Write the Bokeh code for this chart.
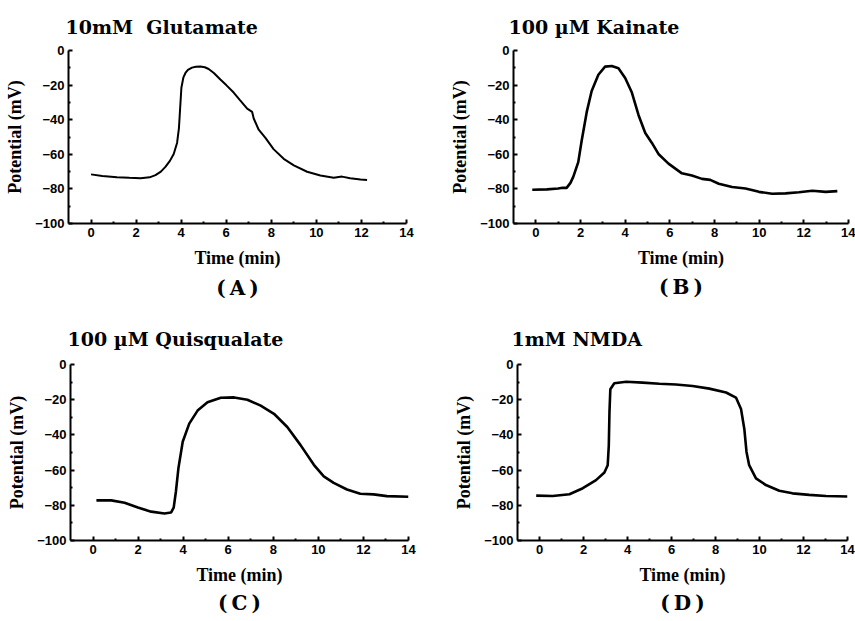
from bokeh.plotting import figure
from bokeh.layouts import column, row
from bokeh.models import FixedTicker, Title, Range1d
from bokeh.embed import file_html
from bokeh.resources import INLINE

# ---- data ----
glu_time = [0, 0.5, 1.15, 1.7, 2.2, 2.6, 2.86, 3.1, 3.3, 3.5, 3.67, 3.82, 3.9, 3.94, 4.01, 4.1, 4.19, 4.3, 4.48, 4.65,
            4.85, 5.05, 5.22, 5.45, 5.74, 6.0, 6.33, 6.6, 6.93, 7.15, 7.22, 7.44, 7.74, 8.1, 8.55, 9.0, 9.59, 10.18, 10.77, 11.14,
            11.5, 11.96, 12.25]
glu_pot = [-71.6, -72.6, -73.3, -73.6, -73.8, -73.3, -72.0, -70.0, -67.3, -63.8, -59.8, -53.3, -45.0, -36.4, -21.5, -15.5, -13.0, -11.2, -9.9, -9.4,
           -9.3, -9.7, -10.7, -13.0, -16.8, -20.0, -24.3, -28.5, -33.6, -35.5, -39.3, -45.8, -50.5, -57.0, -62.6, -66.4, -70.1, -72.3, -73.5, -72.9,
           -73.8, -74.6, -74.8]

kai_time = [-0.16, 0.5, 1.0, 1.2, 1.38, 1.55, 1.68, 1.9, 2.05, 2.28, 2.5, 2.8, 3.1, 3.4, 3.7, 4.0, 4.3, 4.6, 4.9, 5.19,
            5.49, 5.94, 6.54, 6.99, 7.44, 7.81, 8.19, 8.79, 9.39, 9.99, 10.58, 11.18, 11.78, 12.38, 12.98, 13.5]
kai_pot = [-80.5, -80.3, -79.8, -79.3, -79.4, -76.5, -72.9, -64.5, -52.3, -35.5, -23.4, -14.0, -9.3, -9.0, -10.3, -15.9, -24.3, -37.4, -47.7, -53.3,
           -59.8, -65.4, -71.0, -72.3, -74.2, -74.8, -77.0, -78.9, -79.8, -81.7, -82.8, -82.6, -81.9, -81.1, -81.7, -81.3]

qui_time = [0.15, 0.81, 1.4, 1.99, 2.58, 3.17, 3.46, 3.58, 3.68, 3.79, 3.98, 4.27, 4.64, 5.08, 5.67, 6.26, 6.85, 7.44, 8.03, 8.62,
            9.21, 9.8, 10.24, 10.68, 11.27, 11.86, 12.45, 13.04, 14.0]
qui_pot = [-77.2, -77.2, -78.5, -81.3, -83.6, -84.7, -84.1, -81.3, -72.0, -58.9, -43.9, -33.6, -26.2, -21.5, -18.9, -18.7, -20.0, -23.4, -28.0, -35.5,
           -45.8, -57.0, -63.6, -67.3, -71.0, -73.4, -73.8, -74.8, -75.1]

nmda_time = [-0.15, 0.6, 1.36, 1.97, 2.57, 2.95, 3.1, 3.15, 3.18, 3.22, 3.4, 3.94, 4.69, 5.45, 6.2, 6.96, 7.72, 8.48, 8.93, 9.16,
             9.31, 9.41, 9.53, 9.84, 10.29, 10.9, 11.5, 12.26, 13.02, 14.0]
nmda_pot = [-74.5, -74.7, -73.7, -70.3, -65.7, -61.4, -57.2, -46.0, -27.2, -14.1, -10.7, -9.8, -10.3, -10.9, -11.4, -12.2, -13.7, -15.9, -18.8, -25.3,
            -36.6, -49.7, -57.2, -64.7, -68.5, -71.7, -73.2, -74.1, -74.7, -75.0]

x_ticks = [0, 2, 4, 6, 8, 10, 12, 14]
x_minor = [1, 3, 5, 7, 9, 11, 13]
y_ticks = [-100, -80, -60, -40, -20, 0]
y_minor = [-90, -70, -50, -30, -10]

titles = ["10mM\u00a0\u00a0Glutamate", "100\u00a0\u00b5M Kainate", "100\u00a0\u00b5M Quisqualate", "1mM NMDA"]
letters = ["(\u2009A\u2009)", "(\u2009B\u2009)", "(\u2009C\u2009)", "(\u2009D\u2009)"]
x_label = "Time (min)"
y_label = "Potential (mV)"

SERIF = "Liberation Serif, Times New Roman, Times, serif"
SANS = "Liberation Sans, Arial, Helvetica, sans-serif"


def panel(title, letter, t, v, lw, w, h, ml, mr, mt, mb, toff, loff, tpad, lstand):
    p = figure(width=w, height=h, x_range=Range1d(-1, 14), y_range=Range1d(-100, 0),
               output_backend="svg", toolbar_location=None,
               min_border_left=ml, min_border_right=mr, min_border_top=mt, min_border_bottom=mb)
    p.grid.visible = False
    p.outline_line_color = None
    p.background_fill_color = "white"
    p.border_fill_color = "white"

    p.title.text = title
    p.title.text_font = "DejaVu Serif"
    p.title.text_font_size = "19px"
    p.title.text_font_style = "bold"
    p.title.text_color = "black"
    p.title.align = "left"
    p.title.offset = toff - tpad
    p.title.vertical_align = "bottom"
    p.title.padding = tpad

    p.xaxis.ticker = FixedTicker(ticks=x_ticks, minor_ticks=x_minor)
    p.yaxis.ticker = FixedTicker(ticks=y_ticks, minor_ticks=y_minor)
    p.xaxis.axis_label = x_label
    p.yaxis.axis_label = y_label
    for ax in (p.xaxis[0], p.yaxis[0]):
        ax.axis_line_width = 2
        ax.axis_line_color = "black"
        ax.major_tick_in = 4
        ax.major_tick_out = 0
        ax.minor_tick_in = 2
        ax.minor_tick_out = 0
        ax.major_tick_line_width = 2
        ax.minor_tick_line_width = 2
        ax.major_tick_line_color = "black"
        ax.minor_tick_line_color = "black"
        ax.major_label_text_font = SANS
        ax.major_label_text_font_style = "bold"
        ax.major_label_text_font_size = "13px"
        ax.major_label_text_color = "black"
        ax.axis_label_text_font = SERIF
        ax.axis_label_text_font_style = "bold"
        ax.axis_label_text_font_size = "18px"
        ax.axis_label_text_color = "black"
    p.xaxis.major_label_standoff = 4
    p.xaxis.axis_label_standoff = 8
    p.yaxis.major_label_standoff = 4
    p.yaxis.axis_label_standoff = 7

    lt = Title(text=letter, align="center", text_font="DejaVu Serif", text_font_size="20px",
               text_font_style="bold", text_color="black", offset=loff, standoff=lstand)
    p.add_layout(lt, "below")

    p.line(t, v, line_color="black", line_width=lw)
    return p


pA = panel(titles[0], letters[0], glu_time, glu_pot, 2, 425, 310, 68, 19, 45, 87, -3, 6, 8, 6)
pB = panel(titles[1], letters[1], kai_time, kai_pot, 2.6, 430, 310, 88, 7, 47, 85, -5, 6, 8, 4)
pC = panel(titles[2], letters[2], qui_time, qui_pot, 2.6, 425, 311, 70, 17, 52, 81, -3, 6, 10, 2)
pD = panel(titles[3], letters[3], nmda_time, nmda_pot, 2.6, 430, 311, 92, 8, 52, 81, -6, 6, 10, 2)

layout = column(row(pA, pB), row(pC, pD))
open("out.html", "w").write(file_html(layout, INLINE))
